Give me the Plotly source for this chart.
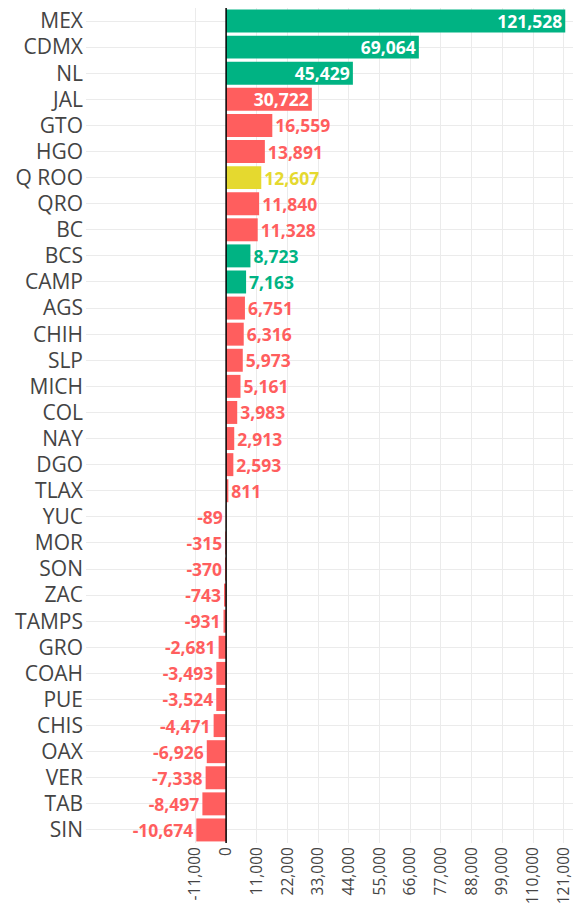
import plotly.graph_objects as go

states = ["MEX", "CDMX", "NL", "JAL", "GTO", "HGO", "Q ROO", "QRO", "BC", "BCS",
          "CAMP", "AGS", "CHIH", "SLP", "MICH", "COL", "NAY", "DGO", "TLAX", "YUC",
          "MOR", "SON", "ZAC", "TAMPS", "GRO", "COAH", "PUE", "CHIS", "OAX", "VER",
          "TAB", "SIN"]
values = [121528, 69064, 45429, 30722, 16559, 13891, 12607, 11840, 11328, 8723,
          7163, 6751, 6316, 5973, 5161, 3983, 2913, 2593, 811, -89,
          -315, -370, -743, -931, -2681, -3493, -3524, -4471, -6926, -7338,
          -8497, -10674]
groups = ["verde", "verde", "verde", "rojo", "rojo", "rojo", "amarillo", "rojo", "rojo", "verde",
          "verde", "rojo", "rojo", "rojo", "rojo", "rojo", "rojo", "rojo", "rojo", "rojo",
          "rojo", "rojo", "rojo", "rojo", "rojo", "rojo", "rojo", "rojo", "rojo", "rojo",
          "rojo", "rojo"]
tick_vals = [-11000, 0, 11000, 22000, 33000, 44000, 55000, 66000, 77000, 88000, 99000, 110000, 121000]
tick_text = ["-11,000", "0", "11,000", "22,000", "33,000", "44,000", "55,000", "66,000",
             "77,000", "88,000", "99,000", "110,000", "121,000"]

palette = {"verde": "#00b383", "rojo": "#ff5e5e", "amarillo": "#e5d92f"}
bar_colors = [palette[g] for g in groups]
inside = [v > 20000 for v in values]
text_pos = ["inside" if i else "outside" for i in inside]
text_colors = ["#ffffff" if i else c for i, c in zip(inside, bar_colors)]
labels = [f"{v:,}" for v in values]

fig = go.Figure(go.Bar(
    x=values, y=states, orientation="h",
    marker=dict(color=bar_colors, line=dict(width=0)),
    text=labels, textposition=text_pos, insidetextanchor="end",
    textfont=dict(family="Open Sans", size=17.5, color=text_colors, weight="bold"),
    constraintext="none", cliponaxis=False, hoverinfo="skip",
))

# zero reference line drawn above the bars
fig.add_shape(type="line", xref="x", yref="paper", x0=0, x1=0, y0=0, y1=1,
              line=dict(color="#000000", width=1.5), layer="above")

fig.update_layout(
    width=573, height=907,
    margin=dict(l=86, r=0, t=8, b=64),
    paper_bgcolor="white", plot_bgcolor="white",
    font=dict(family="Open Sans", color="#444444"),
    bargap=0.12, showlegend=False,
    xaxis=dict(range=[-50200, 124300], tickvals=tick_vals, ticktext=tick_text,
               tickangle=-90, tickfont=dict(size=15.5, color="#444444"),
               showgrid=True, gridcolor="#ebebeb", gridwidth=1,
               zeroline=False, ticks="", automargin=False, fixedrange=True,
               ticklabeloverflow="allow"),
    yaxis=dict(autorange="reversed", tickfont=dict(size=21, color="#444444"),
               showgrid=True, gridcolor="#ebebeb", gridwidth=1, ticks="",
               ticklabelstandoff=2, automargin=False, fixedrange=True),
)

fig.write_html("out.html", config={"displayModeBar": False, "staticPlot": True},
               post_script="document.body.style.margin='0';document.body.style.overflow='hidden';")
